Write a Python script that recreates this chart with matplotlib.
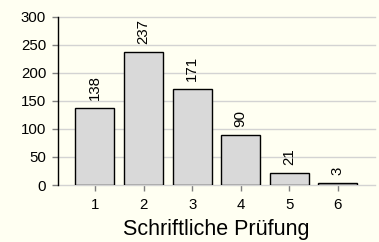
import matplotlib
matplotlib.use("Agg")
import matplotlib.pyplot as plt

# Daten: Noten der schriftlichen Pruefung
grades = [1, 2, 3, 4, 5, 6]
counts = [138, 237, 171, 90, 21, 3]
y_ticks = [0, 50, 100, 150, 200, 250, 300]

BG = "#FFFFF2"
plt.rcParams["font.family"] = ["Liberation Sans", "DejaVu Sans"]

fig = plt.figure(figsize=(3.79, 2.42), dpi=100, facecolor=BG)
ax = fig.add_axes([0.153, 0.2355, 0.836, 0.6955], facecolor=BG)

ax.bar(grades, counts, width=0.8, color="#D9D9D9", edgecolor="black", linewidth=1, zorder=3)
for g, c in zip(grades, counts):
    ax.text(g, c + 14, str(c), rotation=90, ha="center", va="bottom", fontsize=10.8, zorder=4)

ax.set_xlim(0.24, 6.76)
ax.set_ylim(0, 300)
ax.set_xticks(grades)
ax.set_yticks(y_ticks)
ax.yaxis.grid(True, color="#D3D3D3", linewidth=1, zorder=0)
for gl in ax.yaxis.get_gridlines():
    gl.set_clip_on(False)

for side in ("top", "right", "bottom"):
    ax.spines[side].set_visible(False)
ax.spines["left"].set_color("black")
ax.spines["left"].set_linewidth(1)

ax.tick_params(axis="both", labelsize=10.8, color="#808080", length=4.5, width=1)
ax.tick_params(axis="y", pad=4)
ax.tick_params(axis="x", pad=5)
ax.set_xlabel("Schriftliche Prüfung", fontsize=15.5, labelpad=5)

fig.savefig("out.png", dpi=100, facecolor=BG)
